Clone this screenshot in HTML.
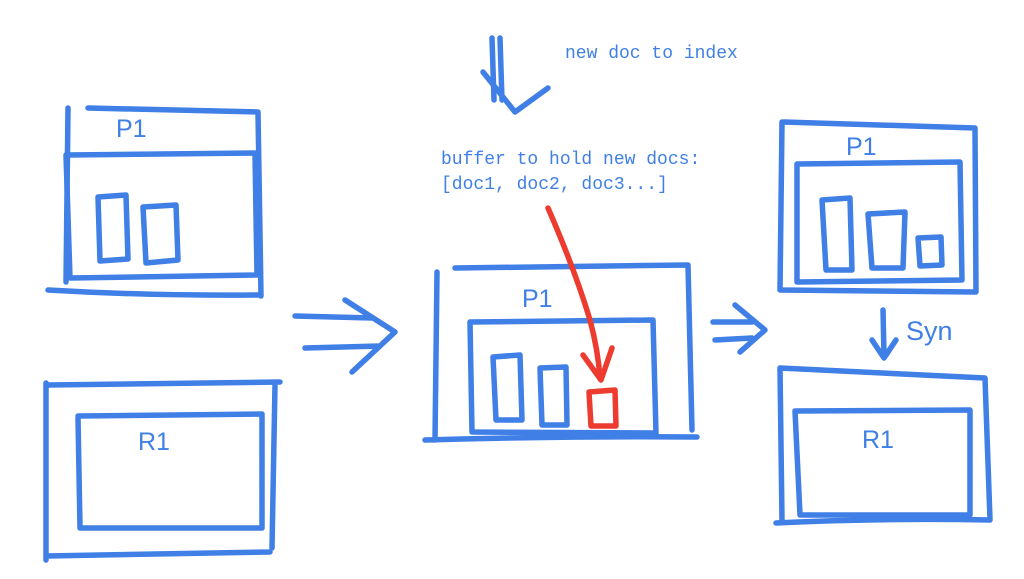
<!DOCTYPE html>
<html><head><meta charset="utf-8"><style>
html,body{margin:0;padding:0;background:#fff;}
svg{display:block}
.b{fill:none;stroke:#3f7fe6;stroke-width:5.5;stroke-linecap:round;stroke-linejoin:round}
.r{fill:none;stroke:#ee3b2f;stroke-width:5.5;stroke-linecap:round;stroke-linejoin:round}
.t{font-family:"Liberation Sans",sans-serif;fill:#3f7fe6}
.m{font-family:"Liberation Mono",monospace;fill:#3f7fe6;font-size:18px}
</style></head><body>
<svg width="1024" height="579" viewBox="0 0 1024 579">
<path class="b" d="M68 108 L66 282 M88 108 L258 112 L261 296 M48 290 Q150 296 260 295"/>
<path class="b" d="M66 155 L255 153 L257 275 L70 278 L66 155"/>
<path class="b" d="M98 197 L126 195 L128 259 L100 261 Z M143 207 L176 205 L178 260 L146 263 Z"/>
<text class="t" x="116" y="137" font-size="25">P1</text>
<path class="b" d="M46 383 L46 560 M48 385 L280 382 M275 385 L272 548 M46 556 L270 552"/>
<path class="b" d="M78 416 L262 414 L262 528 L80 528 L78 418"/>
<text class="t" x="138" y="450" font-size="25">R1</text>
<path class="b" d="M295 316 L372 318 M305 348 L380 346 M345 300 L395 332 L352 372"/>
<path class="b" d="M492 38 L494 100 M500 38 L502 100 M483 72 L515 112 L548 88"/>
<text class="m" x="565" y="58">new doc to index</text>
<text class="m" x="441" y="164">buffer to hold new docs:</text>
<text class="m" x="441" y="189">[doc1, doc2, doc3...]</text>
<path class="b" d="M437 272 L435 440 M455 268 L688 265 L692 430 M425 440 Q560 436 697 437"/>
<path class="b" d="M470 322 L653 320 L656 433 L472 432 L470 322"/>
<path class="b" d="M493 357 L520 355 L522 420 L496 420 Z M540 368 L566 367 L567 425 L542 425 Z"/>
<text class="t" x="522" y="307" font-size="25">P1</text>
<path class="r" d="M589 392 L615 390 L616 426 L591 426 Z"/>
<path class="r" d="M548 208 Q575 270 590 320 Q598 350 600 378 M583 355 L601 380 L612 348"/>
<path class="b" d="M713 322 L752 322 M715 340 L752 338 M735 305 L765 330 L740 352"/>
<path class="b" d="M782 122 L780 290 M784 122 L975 128 L976 292 M780 290 L975 292"/>
<path class="b" d="M797 164 L960 162 L962 280 L797 282 Z"/>
<path class="b" d="M822 200 L850 198 L852 270 L826 270 Z M868 214 L905 212 L903 268 L872 268 Z M918 238 L941 237 L942 265 L920 266 Z"/>
<text class="t" x="846" y="155" font-size="25">P1</text>
<path class="b" d="M883 310 L884 355 M872 340 L884 358 L896 340"/>
<text class="t" x="906" y="340" font-size="27">Syn</text>
<path class="b" d="M780 368 L782 520 M780 368 L985 378 L990 520 M776 523 Q880 518 990 520"/>
<path class="b" d="M795 411 L970 410 L970 515 L800 515 L795 411"/>
<text class="t" x="862" y="448" font-size="25">R1</text>
</svg>
</body></html>
